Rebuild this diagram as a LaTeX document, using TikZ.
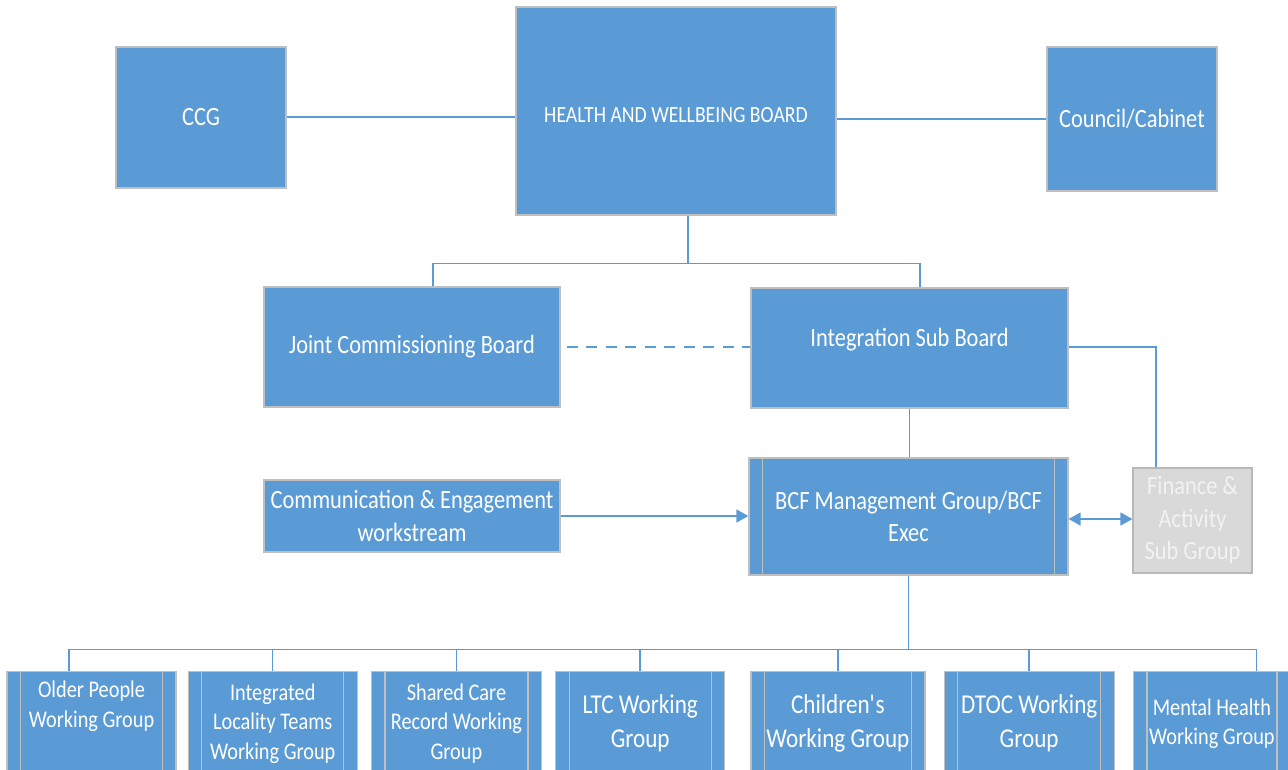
\documentclass[tikz,border=0pt]{standalone}
\usepackage{fontspec}
\setmainfont{Carlito}[FakeStretch=0.85]
\usetikzlibrary{arrows.meta, positioning}

\definecolor{boardblue}{HTML}{5B9BD5}
\definecolor{edgegray}{HTML}{BFBFBF}
\definecolor{subgray}{HTML}{D9D9D9}

\begin{document}
\begin{tikzpicture}[auto, node distance=0.26cm, >={Triangle[length=0.24cm, width=0.26cm]}]
    % Styles
    \tikzstyle{box} = [rectangle, draw=edgegray, line width=0.7pt, fill=boardblue, text=white, align=center, inner sep=0pt, font=\fontsize{15}{18.5}\selectfont]
    \tikzstyle{side} = [draw=edgegray, line width=0.7pt]
    \tikzstyle{subbox} = [box, path picture={
        \draw[side] ([xshift=0.27cm]path picture bounding box.north west) -- ([xshift=0.27cm]path picture bounding box.south west);
        \draw[side] ([xshift=-0.27cm]path picture bounding box.north east) -- ([xshift=-0.27cm]path picture bounding box.south east);}]
    \tikzstyle{group} = [subbox, minimum width=3.38cm, minimum height=2.08cm, font=\fontsize{13.6}{16.8}\selectfont]
    \tikzstyle{biggroup} = [group, font=\fontsize{15.5}{19.3}\selectfont]
    \tikzstyle{line} = [draw=boardblue, line width=0.85pt]
    \tikzstyle{arrow} = [line, ->]

    \path[use as bounding box, clip] (0,0) rectangle (25.76,-15.38);

    % Nodes
    \node[box, minimum width=3.4cm, minimum height=2.82cm] (ccg) at (4.02,-2.35) {CCG};
    \node[box, minimum width=6.4cm, minimum height=4.16cm, text height=0.46cm, font=\fontsize{13.2}{16}\selectfont] (hwb) at (13.52,-2.22) {HEALTH AND WELLBEING BOARD};
    \node[box, minimum width=3.4cm, minimum height=2.88cm] (council) at (22.64,-2.38) {Council/Cabinet};
    \node[box, minimum width=5.92cm, minimum height=2.4cm] (jcb) at (8.24,-6.94) {Joint Commissioning Board};
    \node[box, minimum width=6.34cm, minimum height=2.4cm, text depth=0.42cm] (isb) at (18.19,-6.96) {Integration Sub Board};
    \node[box, minimum width=5.92cm, minimum height=1.44cm] (comm) at (8.24,-10.32) {Communication \& Engagement\\workstream};
    \node[subbox, minimum width=6.38cm, minimum height=2.34cm] (bcf) at (18.17,-10.33) {BCF Management Group/BCF\\Exec};
    \node[box, fill=subgray, draw=subgray!85!black, text=white!95!black, minimum width=2.38cm, minimum height=2.1cm] (finance) at (23.85,-10.41) {Finance \&\\Activity\\Sub Group};

    \node[group] (older) at (1.83,-14.47) {Older People\\Working Group\\\strut};
    \node[group, right=0.22cm of older] (locality) {Integrated\\Locality Teams\\Working Group};
    \node[group, right=0.26cm of locality, minimum width=3.4cm] (record) {Shared Care\\Record Working\\Group};
    \node[biggroup, right=0.26cm of record] (ltc) {LTC Working\\Group};
    \node[biggroup, right=0.5cm of ltc, minimum width=3.48cm] (children) {Children\textquotesingle s\\Working Group};
    \node[biggroup, right=0.36cm of children, minimum width=3.4cm] (dtoc) {DTOC Working\\Group};
    \node[group, right=0.36cm of dtoc, minimum width=3.14cm] (mental) {Mental Health\\Working Group};

    % Paths
    \draw[line] (ccg.east |- 0,-2.34) -- (hwb.west |- 0,-2.34);
    \draw[line] (hwb.east |- council) -- (council.west);
    \draw[line] ([xshift=0.24cm]hwb.south) -- ++(0,-0.96) coordinate (top);
    \draw[line] ([xshift=0.42cm]jcb.north) |- (top) -| ([xshift=0.21cm]isb.north);
    \draw[line, dash pattern=on 0.22cm off 0.17cm, shorten <=0.12cm] (jcb.east) -- (jcb.east -| isb.west);
    \draw[line] (isb.south) -- (isb.south |- bcf.north);
    \draw[line] (isb.east |- 0,-6.94) -| ([xshift=-0.73cm]finance.north);
    \draw[arrow] (comm.east) -- (comm.east -| bcf.west);
    \draw[line, <->] (bcf.east |- 0,-10.38) -- (finance.west |- 0,-10.38);

    \draw[line] (bcf.south) -- ++(0,-1.48) coordinate (bus);
    \draw[line] ([xshift=-0.45cm]older.north) |- (bus) -| ([xshift=0.89cm]mental.north);
    \foreach \g in {locality, record, ltc, children, dtoc}
        \draw[line] (\g.north) -- (\g.north |- bus);
\end{tikzpicture}
\end{document}
